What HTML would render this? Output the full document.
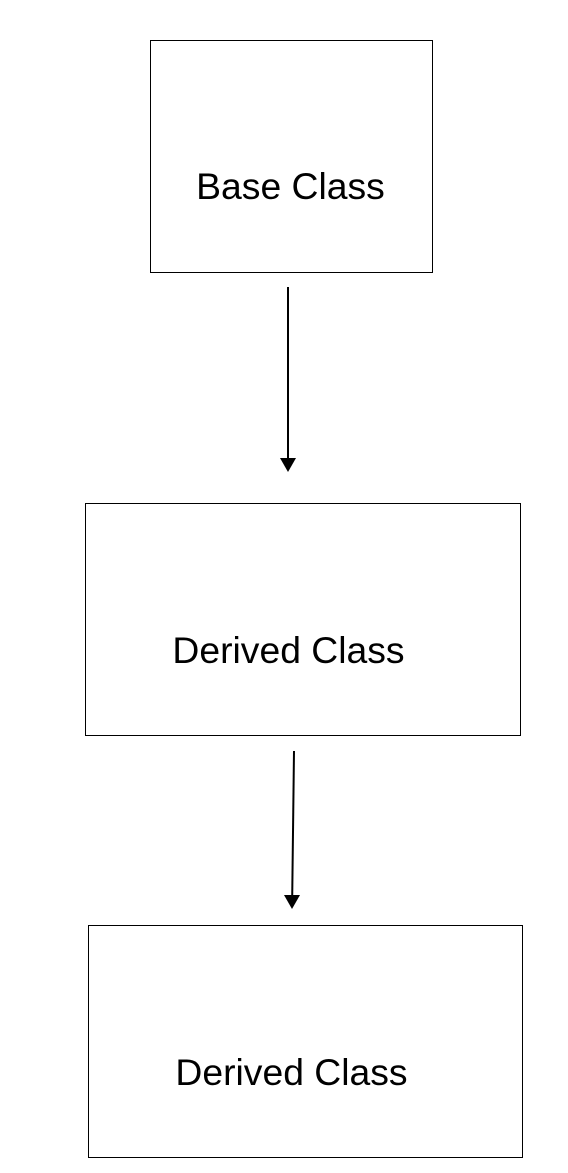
<!DOCTYPE html>
<html><head><style>
html,body{margin:0;padding:0;background:#fff;}
</style></head><body>
<svg width="568" height="1173" xmlns="http://www.w3.org/2000/svg" style="display:block">
<rect width="568" height="1173" fill="#fff"/>
<g fill="none" stroke="#000" stroke-width="1">
<rect x="150.5" y="40.5" width="282" height="232"/>
<rect x="85.5" y="503.5" width="435" height="232"/>
<rect x="88.5" y="925.5" width="434" height="232"/>
</g>
<g stroke="#000" stroke-width="2">
<line x1="288" y1="287" x2="288" y2="460"/>
<line x1="294" y1="751" x2="292.2" y2="897"/>
</g>
<g fill="#000">
<polygon points="280,458 296,458 288,472"/>
<polygon points="284,895 300,895 292,909"/>
</g>
<g font-family="Liberation Sans, Arial, sans-serif" font-size="37.3" text-anchor="middle" fill="#000">
<text x="290.5" y="199">Base Class</text>
<text x="288.5" y="663">Derived Class</text>
<text x="291.5" y="1085">Derived Class</text>
</g>
</svg>
</body></html>
